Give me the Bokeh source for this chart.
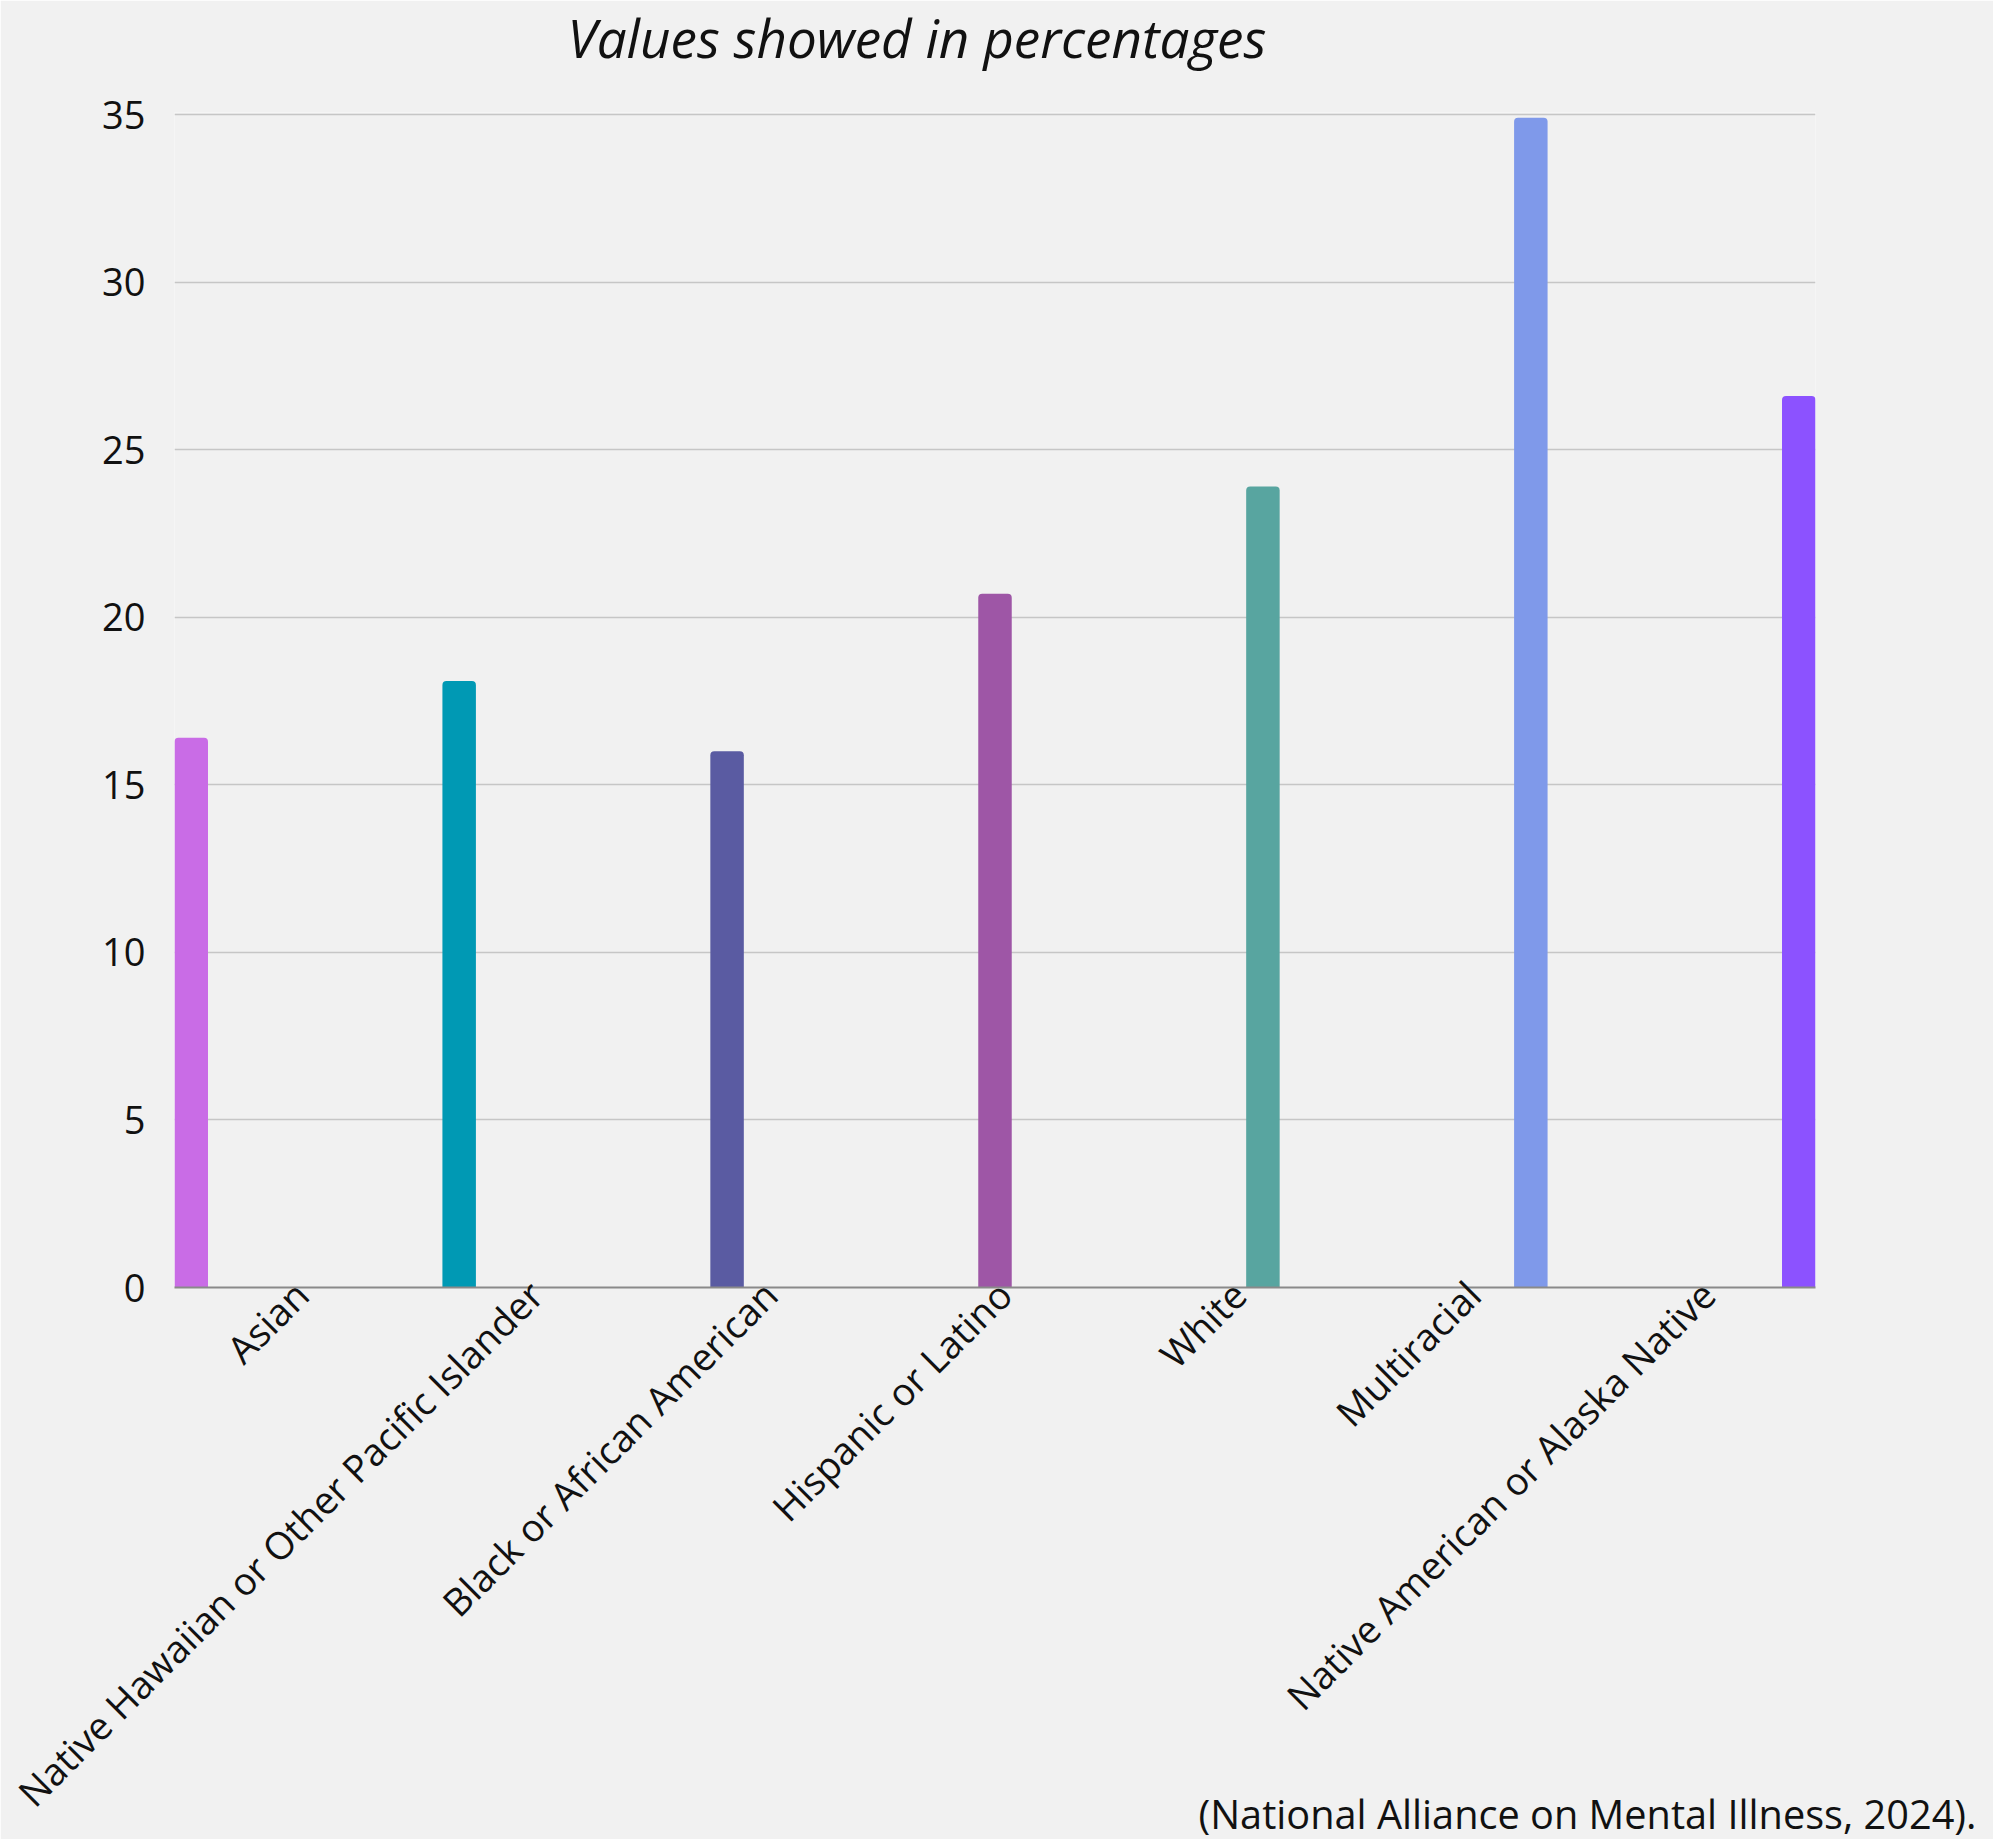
import math

from bokeh.embed import file_html
from bokeh.models import ColumnDataSource, FixedTicker, Range1d, Title
from bokeh.plotting import figure
from bokeh.resources import INLINE

# Prevalence of any mental illness by race / ethnicity (%)
categories = [
    "Asian",
    "Native Hawaiian or Other Pacific Islander",
    "Black or African American",
    "Hispanic or Latino",
    "White",
    "Multiracial",
    "Native American or Alaska Native",
]
values = [16.4, 18.1, 16.0, 20.7, 23.9, 34.9, 26.6]
colors = ["#c96ce6", "#0099b4", "#5a5ba2", "#9e56a6", "#58a5a0", "#7f99ea", "#8c52ff"]
y_ticks = [0, 5, 10, 15, 20, 25, 30, 35]

title_text = "Values showed in percentages"
source_text = "(National Alliance on Mental Illness, 2024)."

FONT = "Open Sans"
BG = "#f1f1f1"

n = len(categories)
# Each category owns one unit on the x axis, split into n slots;
# series i occupies slot i inside category i.
bar_x = [i - 0.5 + (i + 0.5) / n for i in range(n)]
source = ColumnDataSource(dict(x=bar_x, top=values, color=colors, name=categories))

p = figure(
    width=1993,
    height=1839,
    output_backend="svg",
    toolbar_location=None,
    x_range=Range1d(-0.5, n - 0.5),
    y_range=Range1d(0, 35.06),
    min_border_left=174,
    min_border_right=178,
    min_border_top=112,
    min_border_bottom=552,
    background_fill_color=BG,
    border_fill_color=BG,
    outline_line_color=None,
)

p.vbar(
    x="x",
    top="top",
    bottom=0,
    width=1 / n,
    fill_color="color",
    line_color=None,
    border_radius=(4, 4, 0, 0),
    source=source,
)

# y axis
yax = p.yaxis[0]
yax.ticker = FixedTicker(ticks=y_ticks)
yax.axis_line_color = None
yax.major_tick_line_color = None
yax.minor_tick_line_color = None
yax.major_tick_out = 0
yax.major_label_text_font = FONT
yax.major_label_text_font_size = "38px"
yax.major_label_text_color = "#111111"
yax.major_label_standoff = 29

# x axis: grey zero baseline plus one rotated label per category
label_ticks = [i + 0.04 for i in range(n)]
xax = p.xaxis[0]
xax.ticker = FixedTicker(ticks=label_ticks)
xax.major_label_overrides = {t: c for t, c in zip(label_ticks, categories)}
xax.axis_line_color = "#8a8a8a"
xax.axis_line_width = 2
xax.major_tick_line_color = None
xax.minor_tick_line_color = None
xax.major_tick_out = 0
xax.major_tick_in = 0
xax.major_label_orientation = math.pi / 4
xax.major_label_text_font = FONT
xax.major_label_text_font_size = "38px"
xax.major_label_text_color = "#111111"
xax.major_label_standoff = 0

p.xgrid.grid_line_color = None
p.ygrid.grid_line_color = "#c6c6c6"
p.ygrid.grid_line_width = 1.5

# heading above the frame
p.title = Title(
    text=title_text,
    text_font=FONT,
    text_font_style="italic",
    text_font_size="53px",
    text_color="#111111",
    align="left",
    offset=393,
    vertical_align="top",
    standoff=-224,
)

# source note in the bottom-right corner
p.add_layout(
    Title(
        text=source_text,
        text_font=FONT,
        text_font_style="normal",
        text_font_size="39.7px",
        text_color="#111111",
        align="right",
        offset=-161,
        vertical_align="top",
        standoff=-104,
    ),
    "below",
)

open("out.html", "w").write(file_html(p, INLINE))
